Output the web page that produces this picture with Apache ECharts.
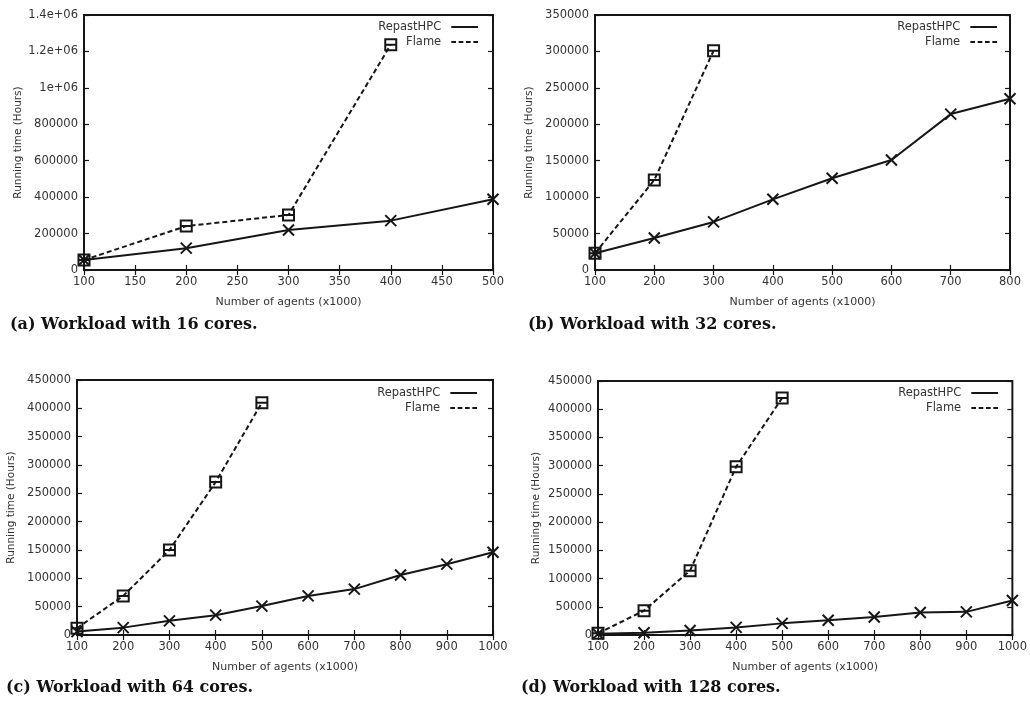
<!DOCTYPE html>
<html>
<head>
<meta charset="utf-8">
<script src="https://cdn.jsdelivr.net/npm/echarts@6/dist/echarts.min.js"></script>
<style>html,body{margin:0;padding:0;background:#fff}#c{width:1030px;height:703px}</style>
</head>
<body>
<div id="c"></div>
<script>
// ---- Data ----
const captions = ['(a) Workload with 16 cores.', '(b) Workload with 32 cores.', '(c) Workload with 64 cores.', '(d) Workload with 128 cores.'];
const seriesNames = ['RepastHPC', 'Flame'];

const xA = [100, 200, 300, 400, 500];
const repastA = [55000, 120000, 220000, 271000, 388000];
const flameXA = [100, 200, 300, 400];
const flameA = [55000, 241000, 302000, 1237000];
const yTicksA = ['0', '200000', '400000', '600000', '800000', '1e+06', '1.2e+06', '1.4e+06'];

const xB = [100, 200, 300, 400, 500, 600, 700, 800];
const repastB = [23000, 44000, 66000, 97000, 126000, 151000, 214000, 235000];
const flameXB = [100, 200, 300];
const flameB = [23000, 123500, 301000];

const xC = [100, 200, 300, 400, 500, 600, 700, 800, 900, 1000];
const repastC = [6000, 13000, 25000, 35000, 51000, 69000, 81000, 106000, 125000, 146000];
const flameXC = [100, 200, 300, 400, 500];
const flameC = [12000, 69000, 150000, 270000, 410000];

const xD = [100, 200, 300, 400, 500, 600, 700, 800, 900, 1000];
const repastD = [2000, 4000, 8000, 13500, 20600, 26000, 32000, 40000, 41000, 61000];
const flameXD = [100, 200, 300, 400, 500];
const flameD = [3000, 43000, 114000, 298000, 420000];

// ---- Layout / style ----
const panels = [
  {grid: {left: 84, top: 15, width: 409, height: 255}, xMin: 100, xMax: 500, xInt: 50, yMax: 1400000, yInt: 200000,
   x: xA, r: repastA, fx: flameXA, f: flameA, yLabels: yTicksA, legRight: 552, legTop: 21, cap: {left: 10, top: 317}, yGap: 60},
  {grid: {left: 595, top: 15, width: 415, height: 255}, xMin: 100, xMax: 800, xInt: 100, yMax: 350000, yInt: 50000,
   x: xB, r: repastB, fx: flameXB, f: flameB, yLabels: null, legRight: 33, legTop: 21, cap: {left: 528, top: 317}, yGap: 60},
  {grid: {left: 77, top: 380, width: 416, height: 255}, xMin: 100, xMax: 1000, xInt: 100, yMax: 450000, yInt: 50000,
   x: xC, r: repastC, fx: flameXC, f: flameC, yLabels: null, legRight: 553, legTop: 387, cap: {left: 6, top: 680}, yGap: 60},
  {grid: {left: 598, top: 381, width: 415, height: 254}, xMin: 100, xMax: 1000, xInt: 100, yMax: 450000, yInt: 50000,
   x: xD, r: repastD, fx: flameXD, f: flameD, yLabels: null, legRight: 32, legTop: 387, cap: {left: 521, top: 680}, yGap: 56}
];

const TXT = {fontFamily: 'DejaVu Sans', fontSize: 11.5, color: '#333'};
const INK = '#161616';
const SYM_X = 'path://M0,0L10,10M10,0L0,10';
const SYM_BOX = 'path://M0,0L10,0L10,10L0,10ZM0,5L10,5';
const ICON_SOLID = 'path://M0,0h40v3h-40z';
const ICON_DASH = 'path://M0,0h7v3h-7zM11,0h7v3h-7zM22,0h7v3h-7zM33,0h7v3h-7z';

const option = {
  animation: false,
  backgroundColor: '#fff',
  grid: [], xAxis: [], yAxis: [], series: [], legend: [], title: []
};

panels.forEach((p, i) => {
  option.grid.push(Object.assign({show: true, borderColor: INK, borderWidth: 2, containLabel: false}, p.grid));
  const tick = {inside: true, length: 5, lineStyle: {color: INK, width: 1.2}};
  option.xAxis.push({
    gridIndex: i, type: 'value', min: p.xMin, max: p.xMax, interval: p.xInt, position: 'bottom',
    name: 'Number of agents (x1000)', nameLocation: 'middle', nameGap: 27, nameTextStyle: Object.assign({}, TXT, {fontSize: 11}),
    axisLine: {show: true, onZero: false, lineStyle: {color: INK, width: 2}},
    axisTick: tick, axisLabel: Object.assign({margin: 6, formatter: v => String(v)}, TXT), splitLine: {show: false}
  });
  option.xAxis.push({
    gridIndex: i, type: 'value', min: p.xMin, max: p.xMax, interval: p.xInt, position: 'top',
    axisLine: {show: false}, axisTick: tick, axisLabel: {show: false}, splitLine: {show: false}
  });
  const yl = p.yLabels;
  option.yAxis.push({
    gridIndex: i, type: 'value', min: 0, max: p.yMax, interval: p.yInt, position: 'left',
    name: 'Running time (Hours)', nameLocation: 'middle', nameGap: p.yGap, nameTextStyle: Object.assign({}, TXT, {fontSize: 10.5}),
    axisLine: {show: true, onZero: false, lineStyle: {color: INK, width: 2}},
    axisTick: tick, splitLine: {show: false},
    axisLabel: Object.assign({margin: 6, formatter: yl ? (v => yl[Math.round(v / p.yInt)]) : (v => String(v))}, TXT)
  });
  option.yAxis.push({
    gridIndex: i, type: 'value', min: 0, max: p.yMax, interval: p.yInt, position: 'right',
    axisLine: {show: false}, axisTick: tick, axisLabel: {show: false}, splitLine: {show: false}
  });
  const nR = seriesNames[0] + '#' + i, nF = seriesNames[1] + '#' + i;
  option.series.push({
    name: nR, type: 'line', xAxisIndex: 2 * i, yAxisIndex: 2 * i,
    data: p.x.map((x, k) => [x, p.r[k]]),
    symbol: SYM_X, symbolSize: 11, showAllSymbol: true,
    lineStyle: {color: INK, width: 2, type: 'solid'},
    itemStyle: {color: 'rgba(0,0,0,0)', borderColor: INK, borderWidth: 2}, z: 3
  });
  option.series.push({
    name: nF, type: 'line', xAxisIndex: 2 * i, yAxisIndex: 2 * i,
    data: p.fx.map((x, k) => [x, p.f[k]]),
    symbol: SYM_BOX, symbolSize: 11, showAllSymbol: true,
    lineStyle: {color: INK, width: 2, type: [5, 3]},
    itemStyle: {color: 'rgba(0,0,0,0)', borderColor: INK, borderWidth: 2}, z: 3
  });
  const legBase = {
    orient: 'horizontal', align: 'right', right: p.legRight, padding: 0, itemGap: 0,
    itemWidth: 37, itemHeight: 2, selectedMode: false,
    textStyle: Object.assign({}, TXT, {fontSize: 11.5}),
    formatter: n => n.split('#')[0]
  };
  option.legend.push(Object.assign({}, legBase, {top: p.legTop,
    data: [{name: nR, icon: ICON_SOLID, itemStyle: {color: INK, borderWidth: 0}}]}));
  option.legend.push(Object.assign({}, legBase, {top: p.legTop + 15,
    data: [{name: nF, icon: ICON_DASH, itemStyle: {color: INK, borderWidth: 0}}]}));
  option.title.push({
    text: captions[i], left: p.cap.left, top: p.cap.top, padding: 0,
    textStyle: {fontFamily: 'DejaVu Serif', fontWeight: 'bold', fontSize: 16, color: '#111'}
  });
});

const chart = echarts.init(document.getElementById('c'));
chart.setOption(option);
</script>
</body>
</html>
